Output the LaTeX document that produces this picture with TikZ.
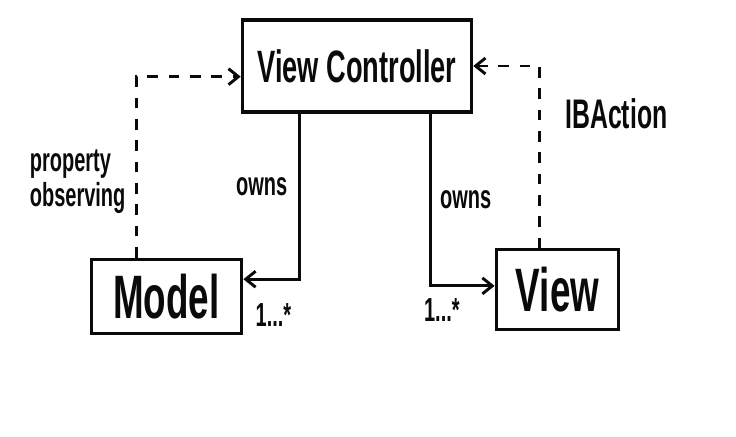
\documentclass[tikz,border=0pt]{standalone}
\usepackage{fontspec}
\setmainfont{Liberation Sans}
\usepackage{graphicx}
\usepackage{tikz}
\usetikzlibrary{arrows.meta, positioning}
\definecolor{inkBlack}{HTML}{0A0A0A}
\newcommand{\hand}[1]{\scalebox{0.6}[1]{#1}}
\tikzset{
  boxHand/.style={rectangle, draw=inkBlack, line width=2.4pt, inner sep=0pt,
                  text=inkBlack, font=\fontsize{34}{34}\selectfont\bfseries},
  arrowOwn/.style={-{Straight Barb[length=2.6mm, width=4.2mm]}, inkBlack, line width=2.2pt},
  arrowObs/.style={-{Straight Barb[length=2.6mm, width=4.2mm]}, inkBlack, line width=2.2pt,
                   dash pattern=on 8pt off 8pt},
  lblHand/.style={text=inkBlack, inner sep=2pt, align=left,
                  font=\fontsize{25}{25}\selectfont\bfseries},
}
\begin{document}
\begin{tikzpicture}[x=0.75pt, y=-0.75pt]
  \useasboundingbox (0,0) rectangle (736,436);
  % boxes
  \node[boxHand, minimum width=172pt, minimum height=69pt] (vc) at (357,66)
    {\hand{View Controller}};
  \node[boxHand, minimum width=113pt, minimum height=56pt,
        below left=108pt and -2pt of vc, font=\fontsize{46}{46}\selectfont\bfseries] (model)
    {\hand{Model}};
  \node[boxHand, minimum width=92pt, minimum height=60pt,
        below right=101pt and 16pt of vc, font=\fontsize{46}{46}\selectfont\bfseries] (view)
    {\hand{View}};
  % ownership
  \draw[arrowOwn] ([xshift=44pt]vc.south west) |- ([yshift=13pt]model.east)
    node[lblHand, pos=0.22, left=6pt] {\hand{owns}};
  \draw[arrowOwn] ([xshift=-32pt]vc.south east) |- ([yshift=3pt]view.west)
    node[lblHand, pos=0.25, right=4pt] {\hand{owns}};
  \node[lblHand, below right=3pt and 7pt of model.east] (modelCard) {\hand{1...*}};
  \node[lblHand, below left=4pt and 24pt of view.west] (viewCard) {\hand{1...*}};
  % notifications
  \draw[arrowObs] ([xshift=35pt]model.north west) |- ([yshift=-8pt]vc.west)
    node[lblHand, pos=0.21, left=5pt] {\hand{\shortstack[l]{property\\observing}}};
  \draw[arrowObs] ([xshift=34pt]view.north west) |- ([yshift=0pt]vc.east)
    node[lblHand, pos=0.37, right=16pt, font=\fontsize{31}{31}\selectfont\bfseries] {\hand{IBAction}};
\end{tikzpicture}
\end{document}
